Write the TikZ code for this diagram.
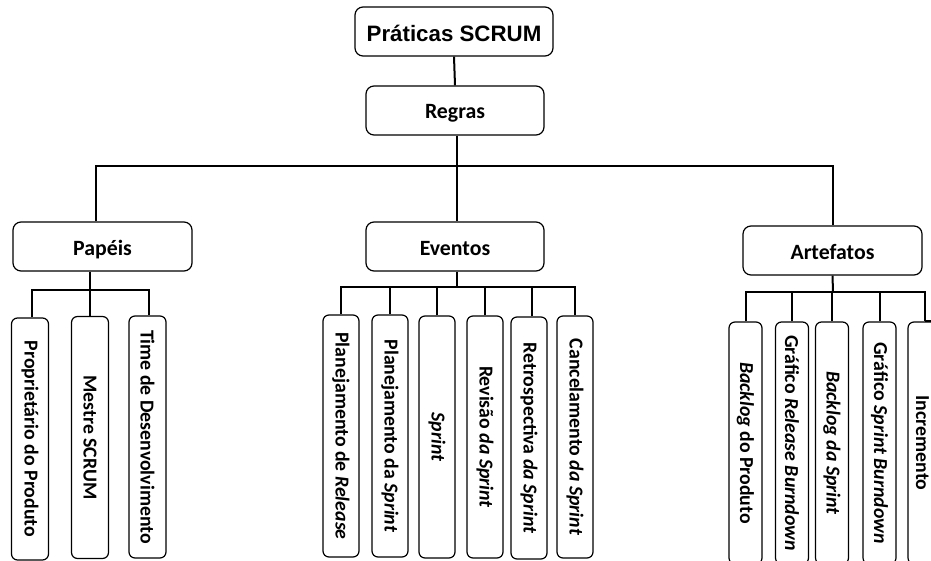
\documentclass[tikz,border=0pt]{standalone}
\usepackage{fontspec}
\usepackage{graphicx}
\setmainfont{Carlito}
\newfontfamily\titlefont{Liberation Sans}
\begin{document}
\begin{tikzpicture}[x=1pt,y=-1pt,
  conn/.style={line width=2pt},
  headbox/.style={draw, line width=1.2pt, rounded corners=8pt, fill=white,
    minimum width=178pt, minimum height=49pt, inner sep=0pt,
    text height=17pt, text depth=0pt,
    font=\fontsize{21.8}{24}\selectfont\bfseries},
  vbox/.style={draw, line width=1.2pt, rounded corners=6pt, fill=white,
    minimum height=242pt, inner sep=0pt,
    font=\fontsize{19.8}{22}\selectfont\bfseries},
  pbox/.style={vbox, minimum width=37pt},
  ebox/.style={vbox, minimum width=36pt},
  abox/.style={vbox, minimum width=33pt}]
\useasboundingbox (0,0) rectangle (931,561);
\clip (0,0) rectangle (931,561);

% top levels
\node[headbox, minimum width=198pt, text height=20pt,
  font=\titlefont\fontsize{22.3}{24}\selectfont\bfseries]
  (top) at (454,31.5) {Práticas SCRUM};
\node[headbox] (regras) at (455,110.5) {Regras};
\node[headbox, minimum width=179pt] (papeis) at (102.5,246.5) {Papéis};
\node[headbox] (eventos) at (455,246.5) {Eventos};
\node[headbox, minimum width=179pt] (artefatos) at (832.5,250.5) {Artefatos};

% roles
\node[pbox] (prop)   at (30,439)    {\rotatebox{-90}{Proprietário do Produto}};
\node[pbox] (mestre) at (90,437.5)  {\rotatebox{-90}{Mestre SCRUM}};
\node[pbox] (time)   at (147.5,437) {\rotatebox{-90}{Time de Desenvolvimento}};

% events
\node[ebox] (planrel) at (341,436) {\rotatebox{-90}{Planejamento de \textit{Release}}};
\node[ebox] (plansp)  at (390,436) {\rotatebox{-90}{Planejamento da \textit{Sprint}}};
\node[ebox] (sprint)  at (437,437) {\rotatebox{-90}{\textit{Sprint}}};
\node[ebox] (revisao) at (485,437) {\rotatebox{-90}{Revisão \textit{da Sprint}}};
\node[ebox] (retro)   at (529,438) {\rotatebox{-90}{Retrospectiva \textit{da Sprint}}};
\node[ebox] (cancel)  at (575,437) {\rotatebox{-90}{Cancelamento \textit{da Sprint}}};

% artifacts
\node[abox] (backprod) at (745.5,443) {\rotatebox{-90}{\textit{Backlog} do Produto}};
\node[abox] (grafrel)  at (792,443)   {\rotatebox{-90}{Gráfico \textit{Release Burndown}}};
\node[abox] (backsp)   at (832,443)   {\rotatebox{-90}{\textit{Backlog da Sprint}}};
\node[abox] (grafsp)   at (879.5,443) {\rotatebox{-90}{Gráfico \textit{Sprint Burndown}}};
\node[abox] (incr)     at (924.5,443) {\rotatebox{-90}{Incremento\rule{0pt}{17pt}}};

% bus lines
\coordinate (busmain) at (457,166);
\coordinate (busp) at (90,290);
\coordinate (buse) at (457,287);
\coordinate (busa) at (833,292);

% connectors
\draw[conn] (top.south) -- (regras.north);
\draw[conn] ([xshift=2pt]regras.south) -- ([xshift=2pt]eventos.north);
\draw[conn] ([xshift=-6.5pt]papeis.north) |- (busmain) -| (artefatos.north);

\draw[conn] (papeis.south -| mestre.north) -- (mestre.north);
\draw[conn] ([xshift=2pt]prop.north) |- (busp) -| ([xshift=1.5pt]time.north);

\draw[conn] ([xshift=2pt]eventos.south) -- (buse);
\draw[conn] (planrel.north) |- (buse) -| (cancel.north);
\draw[conn] (plansp.north) -- (plansp.north |- buse);
\draw[conn] (sprint.north) -- (sprint.north |- buse);
\draw[conn] (revisao.north) -- (revisao.north |- buse);
\draw[conn] ([xshift=3pt]retro.north) -- ([xshift=3pt]retro.north |- buse);

\draw[conn] (artefatos.south) -- (busa);
\draw[conn] (backprod.north) |- (busa) -| (incr.north);
\draw[conn] (grafrel.north) -- (grafrel.north |- busa);
\draw[conn] (backsp.north) -- (backsp.north |- busa);
\draw[conn] (grafsp.north) -- (grafsp.north |- busa);
\draw[conn] (incr.north) -- ++(20,0);
\end{tikzpicture}
\end{document}
